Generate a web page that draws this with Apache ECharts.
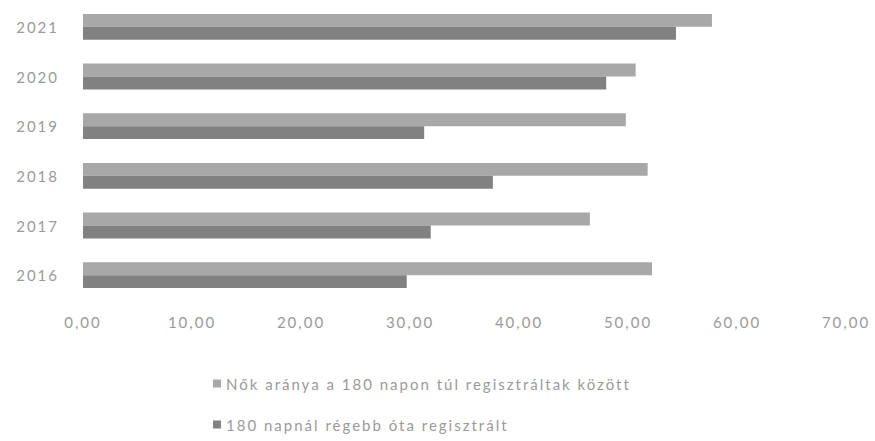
<!DOCTYPE html>
<html>
<head>
<meta charset="utf-8">
<script src="https://cdn.jsdelivr.net/npm/echarts@6/dist/echarts.min.js"></script>
<style>
  html, body { margin: 0; padding: 0; background: #fff; }
  #chart { width: 875px; height: 441px; }
  /* a forras kepen a szoveg szeles, ritkitott */
  #chart text { letter-spacing: 2px; }
</style>
</head>
<body>
<div id="chart"></div>
<script>
// evek (kategoriak), alulrol felfele
var years = ['2016', '2017', '2018', '2019', '2020', '2021'];
// Nők aránya a 180 napon túl regisztráltak között
var nokArany = [52.2, 46.5, 51.8, 49.8, 50.7, 57.7];
// 180 napnál régebb óta regisztrált
var regebbOta = [29.7, 31.9, 37.6, 31.3, 48.0, 54.4];
var seriesNames = ['Nők aránya a 180 napon túl regisztráltak között', '180 napnál régebb óta regisztrált'];

var myChart = echarts.init(document.getElementById('chart'), null, { renderer: 'svg' });
var option = {
  backgroundColor: '#fff',
  animation: false,
  color: ['#a8a8a8', '#818181'],
  textStyle: { fontFamily: 'Lato' },
  legend: {
    orient: 'vertical',
    left: 208,
    top: 371,
    itemWidth: 8,
    itemHeight: 8,
    itemGap: 26,
    icon: 'rect',
    data: seriesNames,
    textStyle: { color: '#9a9a9a', fontSize: 15, fontFamily: 'Lato' }
  },
  grid: {
    left: 83,
    right: 29,
    top: 2,
    bottom: 141
  },
  xAxis: {
    type: 'value',
    min: 0,
    max: 70,
    interval: 10,
    axisLine: { show: false },
    axisTick: { show: false },
    splitLine: { show: false },
    axisLabel: {
      margin: 14,
      color: '#9a9a9a',
      fontSize: 15,
      formatter: function (v) { return v.toFixed(2).replace('.', ','); }
    }
  },
  yAxis: {
    type: 'category',
    data: years,
    axisLine: { show: false },
    axisTick: { show: false },
    axisLabel: { margin: 24, color: '#9a9a9a', fontSize: 15 }
  },
  series: [
    {
      name: seriesNames[0],
      type: 'bar',
      data: nokArany,
      barGap: '0%',
      barCategoryGap: '48%'
    },
    {
      name: seriesNames[1],
      type: 'bar',
      data: regebbOta,
      barGap: '0%',
      barCategoryGap: '48%'
    }
  ]
};
myChart.setOption(option);
</script>
</body>
</html>
